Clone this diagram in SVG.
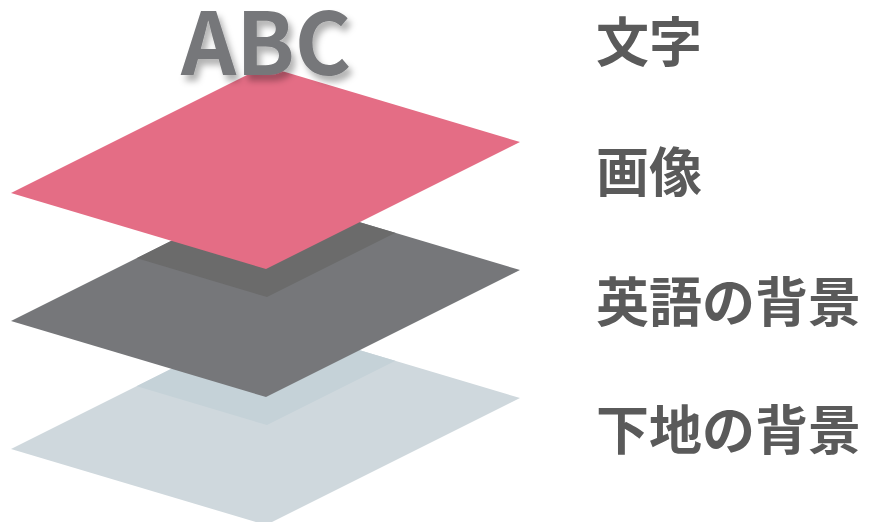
<svg xmlns="http://www.w3.org/2000/svg" width="878" height="522" viewBox="0 0 878 522">
<style>
.lbl{font-family:"Noto Sans CJK JP","Noto Sans",sans-serif;font-weight:700;font-size:53px;fill:#5a5a5a}
.abc{font-family:"Noto Sans CJK JP","Noto Sans",sans-serif;font-weight:700;font-size:86px;fill:#76777a}
</style>
<defs>
<clipPath id="clipGray"><polygon points="11,321 265,194 520,270 266,397"/></clipPath>
<clipPath id="clipLight"><polygon points="11,449 265,322 520,398 266,525"/></clipPath>
<filter id="ds" x="-20%" y="-20%" width="150%" height="160%">
<feDropShadow dx="4" dy="6" stdDeviation="3" flood-color="#000" flood-opacity="0.3"/>
</filter>
</defs>
<rect width="878" height="522" fill="#fff"/>
<g id="layer-base">
<polygon points="11,449 265,322 520,398 266,525" fill="#cfd8dd"/>
<polygon clip-path="url(#clipLight)" points="12,349 266,222 521,298 267,425" fill="#c5d2d8"/>
</g>
<g id="layer-english">
<polygon points="11,321 265,194 520,270 266,397" fill="#76777a"/>
<polygon clip-path="url(#clipGray)" points="12,221 266,94 521,170 267,297" fill="#6b6b6b"/>
</g>
<g id="layer-image">
<polygon points="11,193 265,66 520,142 266,269" fill="#e46d85"/>
</g>
<g id="layer-text">
<text class="abc" x="181" y="75" filter="url(#ds)">ABC</text>
</g>
<g id="labels">
<text class="lbl" x="596" y="62">文字</text>
<text class="lbl" x="596" y="192">画像</text>
<text class="lbl" x="596" y="322">英語の背景</text>
<text class="lbl" x="596" y="450">下地の背景</text>
</g>
</svg>
